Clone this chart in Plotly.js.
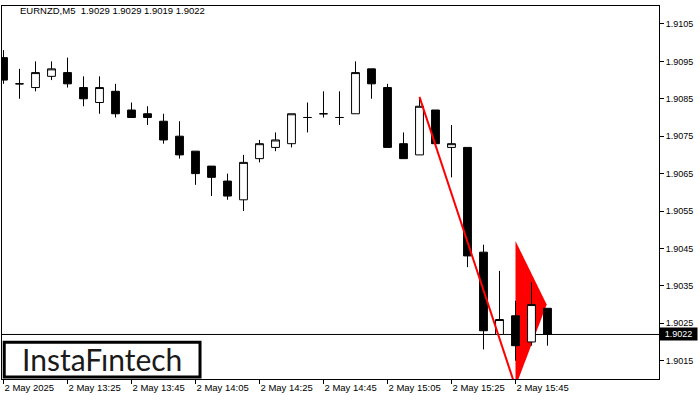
<!DOCTYPE html>
<html>
<head>
<meta charset="utf-8">
<script src="https://cdn.plot.ly/plotly-3.0.1.min.js"></script>
<style>html,body{margin:0;padding:0;background:#fff;}#chart{width:700px;height:400px;}</style>
</head>
<body>
<div id="chart"></div>
<script>
// ---- data (EURNZD, M5) ----
var candleTimes = ['13:05','13:10','13:15','13:20','13:25','13:30','13:35','13:40','13:45','13:50',
  '13:55','14:00','14:05','14:10','14:15','14:20','14:25','14:30','14:35','14:40',
  '14:45','14:50','14:55','15:00','15:05','15:10','15:15','15:20','15:25','15:30',
  '15:35','15:40','15:45','15:50','15:55'];
var openP  = [1.9096,1.9089,1.9088,1.9091,1.9092,1.9088,1.9084,1.9087,1.9082,1.9081,
  1.9079,1.9075,1.9071,1.9067,1.9063,1.9058,1.9069,1.9072,1.9073,1.9080,
  1.9081,1.9080,1.9081,1.9093,1.9088,1.9073,1.9070,1.9082,1.9072,1.9072,
  1.9044,1.9022,1.9027,1.9020,1.9029];
var highP  = [1.9098,1.9093,1.9095,1.9095,1.9096,1.9091,1.9091,1.9089,1.9084,1.9083,
  1.9081,1.9079,1.9071,1.9067,1.9065,1.9070,1.9074,1.9076,1.9081,1.9084,
  1.9087,1.9087,1.9095,1.9093,1.9089,1.9076,1.9085,1.9082,1.9078,1.9072,
  1.9046,1.9039,1.9031,1.9036,1.9029];
var lowP   = [1.9089,1.9085,1.9087,1.9090,1.9088,1.9083,1.9081,1.9080,1.9080,1.9078,
  1.9073,1.9069,1.9062,1.9059,1.9058,1.9055,1.9068,1.9071,1.9072,1.9076,
  1.9080,1.9078,1.9081,1.9085,1.9072,1.9069,1.9070,1.9073,1.9064,1.9040,
  1.9018,1.9022,1.9015,1.9019,1.9019];
var closeP = [1.9090,1.9089,1.9092,1.9093,1.9089,1.9085,1.9088,1.9081,1.9080,1.9080,
  1.9074,1.9070,1.9065,1.9064,1.9059,1.9068,1.9073,1.9074,1.9081,1.9080,
  1.9081,1.9080,1.9092,1.9089,1.9072,1.9069,1.9083,1.9073,1.9073,1.9043,
  1.9023,1.9026,1.9019,1.9030,1.9022];

var tickPositions = [0,4,8,12,16,20,24,28,32];
var tickLabels = ['2 May 2025','2 May 13:25','2 May 13:45','2 May 14:05','2 May 14:25',
  '2 May 14:45','2 May 15:05','2 May 15:25','2 May 15:45'];
var priceTicks = [1.9015,1.9025,1.9035,1.9045,1.9055,1.9065,1.9075,1.9085,1.9095,1.9105];

var currentPrice = [1.9022];
var poleX = [26, 32];
var poleY = [1.90855, 1.9008];
var pennantX = [32, 33.95, 32];
var pennantY = [1.9047, 1.9030, 1.9008];

var titleText = 'EURNZD,M5\u00a0\u00a01.9029 1.9029 1.9019 1.9022';
var logoText = 'InstaF\u0131ntech';

// ---- chart ----
var xIdx = candleTimes.map(function(_, i){ return i; });

var pennantPath = pennantX.map(function(x, i){
  return (i === 0 ? 'M ' : 'L ') + x + ',' + pennantY[i];
}).join(' ') + ' Z';

var traces = [
  {type:'candlestick', x:xIdx, open:openP, high:highP, low:lowP, close:closeP,
   increasing:{line:{color:'#000000', width:1}, fillcolor:'#ffffff'},
   decreasing:{line:{color:'#000000', width:1}, fillcolor:'#000000'},
   whiskerwidth:0, hoverinfo:'skip', showlegend:false},
  {type:'scatter', mode:'lines', x:poleX, y:poleY,
   line:{color:'#ff0000', width:2}, hoverinfo:'skip', showlegend:false}
];

var font = 'Liberation Sans, Arial, sans-serif';
var layout = {
  width:700, height:400,
  margin:{l:2, r:41, t:6, b:21, pad:0},
  paper_bgcolor:'#ffffff', plot_bgcolor:'#ffffff',
  showlegend:false,
  xaxis:{range:[-0.094, 40.97], showgrid:false, zeroline:false,
    showline:true, mirror:true, linecolor:'#000', linewidth:1,
    ticks:'outside', ticklen:4, tickcolor:'#000', tickwidth:1,
    tickmode:'array', tickvals:tickPositions, ticktext:tickLabels,
    ticklabelposition:'outside right',
    tickfont:{family:font, size:9.5, color:'#000'},
    rangeslider:{visible:false}, fixedrange:true},
  yaxis:{range:[1.90101, 1.91098], side:'right', showgrid:false, zeroline:false,
    showline:true, mirror:true, linecolor:'#000', linewidth:1,
    ticks:'outside', ticklen:4, tickcolor:'#000', tickwidth:1,
    tickmode:'array', tickvals:priceTicks, tickformat:'.4f',
    tickfont:{family:font, size:9, color:'#000'}, fixedrange:true},
  shapes:[
    {type:'path', xref:'x', yref:'y', path:pennantPath,
     fillcolor:'#ff0000', line:{color:'#ff0000', width:0}, layer:'below'},
    {type:'line', xref:'paper', x0:0, x1:1, yref:'y', y0:currentPrice[0], y1:currentPrice[0],
     line:{color:'#000', width:1}, layer:'below'},
    {type:'rect', xref:'paper', yref:'paper', x0:0.0034, x1:0.3014, y0:0.0054, y1:0.0983,
     line:{color:'#000', width:3}, fillcolor:'#ffffff', layer:'above'}
  ],
  annotations:[
    {xref:'paper', yref:'paper', x:0.0244, y:0.987, xanchor:'left', yanchor:'middle',
     text:titleText, showarrow:false, font:{family:font, size:9.5, color:'#000'}},
    {xref:'paper', yref:'paper', x:0.1518, y:0.0523, xanchor:'center', yanchor:'middle',
     text:logoText, showarrow:false, font:{family:'Lato, Open Sans, sans-serif', size:30, color:'#1a1a1a'}},
    {xref:'paper', yref:'y', x:1, y:currentPrice[0], xanchor:'left', yanchor:'middle',
     text:currentPrice[0].toFixed(4), showarrow:false, bgcolor:'#000', borderpad:1,
     width:35, font:{family:font, size:9, color:'#fff'}}
  ]
};

Plotly.newPlot('chart', traces, layout, {staticPlot:true, displayModeBar:false});
</script>
</body>
</html>
